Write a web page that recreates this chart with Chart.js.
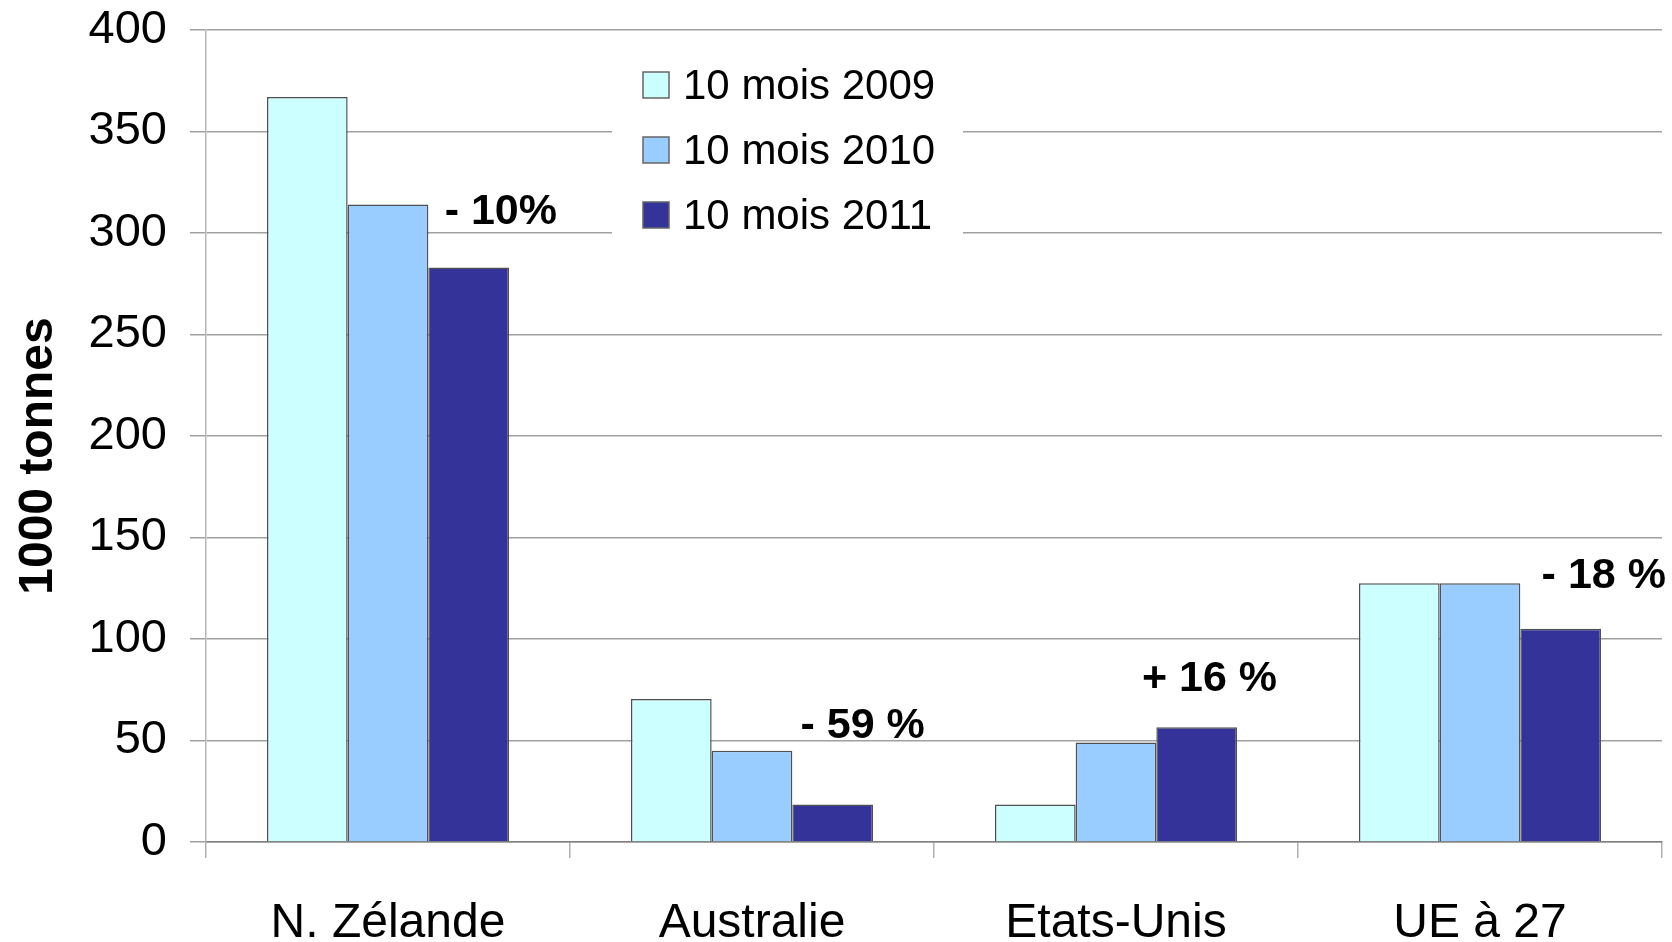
<!DOCTYPE html>
<html><head><meta charset="utf-8">
<script src="https://cdn.jsdelivr.net/npm/chart.js@4/dist/chart.umd.min.js"></script>
<style>html,body{margin:0;padding:0;background:#fff;} canvas{display:block;}</style>
</head><body>
<canvas id="c" width="1672" height="942"></canvas>
<script>
const categories = ['N. Zélande', 'Australie', 'Etats-Unis', 'UE à 27'];
const seriesLabels = ['10 mois 2009', '10 mois 2010', '10 mois 2011'];
const values2009 = [367, 70.5, 18.5, 127.5];
const values2010 = [314, 45, 49, 127.5];
const values2011 = [283, 18.5, 56.5, 105];
const yTickValues = [0, 50, 100, 150, 200, 250, 300, 350, 400];
const changeLabels = ['- 10%', '- 59 %', '+ 16 %', '- 18 %'];
const changeLabelValues = [310.5, 57.3, 80, 131.2];
const yTitle = '1000 tonnes';

const FONT = "'Liberation Sans', Arial, sans-serif";
const seriesColors = ['#CCFFFF', '#99CCFF', '#333399'];
const changeOffsets = [0.31, 0.304, 0.257, 0.34];

const labelPlugin = {
  id: 'extras',
  afterDatasetsDraw(chart) {
    const ctx = chart.ctx;
    const xs = chart.scales.x, ys = chart.scales.y;
    const catW = xs.width / categories.length;
    ctx.save();
    ctx.fillStyle = '#000';
    ctx.font = 'bold 43px ' + FONT;
    ctx.textAlign = 'center';
    ctx.textBaseline = 'middle';
    changeLabels.forEach((t, i) => {
      const x = xs.getPixelForValue(i) + changeOffsets[i] * catW;
      const y = ys.getPixelForValue(changeLabelValues[i]);
      ctx.fillText(t, x, y);
    });
    // legend
    ctx.fillStyle = '#fff';
    ctx.fillRect(612, 46, 351, 200);
    ctx.font = '42px ' + FONT;
    ctx.textAlign = 'left';
    const rowY = [85, 150, 215];
    chart.data.datasets.forEach((ds, i) => {
      ctx.fillStyle = ds.backgroundColor;
      ctx.fillRect(643, rowY[i] - 13, 26, 26);
      ctx.strokeStyle = '#666';
      ctx.lineWidth = 1.5;
      ctx.strokeRect(643, rowY[i] - 13, 26, 26);
      ctx.fillStyle = '#000';
      ctx.fillText(ds.label, 683, rowY[i] + 2);
    });
    // y title
    const ca = chart.chartArea;
    ctx.save();
    ctx.translate(39, (ca.top + ca.bottom) / 2 + 20);
    ctx.rotate(-Math.PI / 2);
    ctx.textAlign = 'center';
    ctx.font = 'bold 48px ' + FONT;
    ctx.fillText(yTitle, 0, 0);
    ctx.restore();
    ctx.restore();
  }
};

new Chart(document.getElementById('c'), {
  type: 'bar',
  data: {
    labels: categories,
    datasets: [values2009, values2010, values2011].map((v, i) => ({
      label: seriesLabels[i],
      data: v,
      backgroundColor: seriesColors[i],
      borderColor: '#505050',
      borderWidth: 1.5,
      barPercentage: 1,
      categoryPercentage: 0.665
    }))
  },
  options: {
    responsive: false,
    animation: false,
    devicePixelRatio: 1,
    layout: { padding: { top: 30, right: 10, left: 0, bottom: 0 } },
    plugins: { legend: { display: false }, tooltip: { enabled: false } },
    scales: {
      x: {
        afterFit(s) { s.height = 100; s.paddingLeft = 0; s.paddingRight = 0; },
        grid: { offset: true, drawOnChartArea: false, drawTicks: true, tickLength: 16, color: '#b0b0b0', lineWidth: 1.5 },
        border: { color: '#808080', width: 1.5 },
        ticks: { color: '#000', font: { family: FONT, size: 48 }, padding: 37, maxRotation: 0 }
      },
      y: {
        min: 0, max: 400,
        afterFit(s) { s.width = 206; s.paddingTop = 0; s.paddingBottom = 0; },
        afterBuildTicks(s) { s.ticks = yTickValues.map(v => ({ value: v })); },
        grid: { color: '#a0a0a0', lineWidth: 1.5, tickLength: 16, drawTicks: true },
        border: { color: '#b8b8b8', width: 1.5 },
        ticks: { color: '#000', font: { family: FONT, size: 47 }, padding: 23 }
      }
    }
  },
  plugins: [labelPlugin]
});
</script>
</body></html>
